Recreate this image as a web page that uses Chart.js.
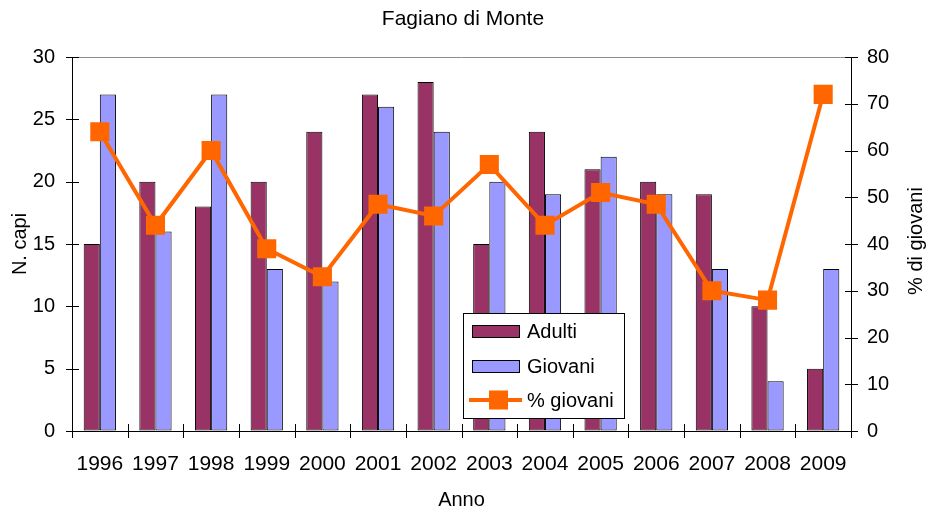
<!DOCTYPE html>
<html>
<head>
<meta charset="utf-8">
<script src="https://cdn.jsdelivr.net/npm/chart.js@4/dist/chart.umd.min.js"></script>
<style>
  html, body { margin: 0; padding: 0; background: #ffffff; }
  #wrap { width: 926px; height: 512px; }
</style>
</head>
<body>
<div id="wrap"><canvas id="c" width="926" height="512"></canvas></div>
<script>
// Fagiano di Monte: adulti e giovani censiti per anno, con la quota di giovani
const anni = ['1996', '1997', '1998', '1999', '2000', '2001', '2002', '2003', '2004', '2005', '2006', '2007', '2008', '2009'];
const adulti = [15, 20, 18, 20, 24, 27, 28, 15, 24, 21, 20, 19, 10, 5];
const giovani = [27, 16, 27, 13, 12, 26, 24, 20, 19, 22, 19, 13, 4, 13];
const percGiovani = [64, 44, 60, 39, 33, 48.5, 46, 57, 44, 51, 48.5, 30, 28, 72];
const ticksCapi = [0, 5, 10, 15, 20, 25, 30];
const ticksPerc = [0, 10, 20, 30, 40, 50, 60, 70, 80];

const FONT = '"Liberation Sans", Arial, Helvetica, sans-serif';
const C_ADULTI = '#993366';
const C_GIOVANI = '#9999FF';
const C_PERC = '#FF6600';

// Tick marks that cross the axis lines, plus the grey top frame line
const axisDecor = {
  id: 'axisDecor',
  beforeDatasetsDraw(chart) {
    const { ctx, chartArea: a } = chart;
    ctx.save();
    ctx.strokeStyle = '#8c8c8c';
    ctx.lineWidth = 1;
    ctx.beginPath();
    ctx.moveTo(a.left, a.top + 0.5);
    ctx.lineTo(a.right, a.top + 0.5);
    ctx.stroke();
    ctx.restore();
  },
  afterDatasetsDraw(chart) {
    const { ctx, chartArea: a, scales } = chart;
    ctx.save();
    ctx.strokeStyle = '#000';
    ctx.lineWidth = 1;
    ctx.beginPath();
    const n = anni.length;
    const step = (a.right - a.left) / n;
    for (let i = 0; i <= n; i++) {
      const x = Math.round(a.left + i * step) + 0.5;
      ctx.moveTo(x, a.bottom - 7);
      ctx.lineTo(x, a.bottom + 7);
    }
    ticksCapi.forEach(v => {
      const y = Math.round(scales.y.getPixelForValue(v)) + 0.5;
      ctx.moveTo(a.left - 6, y);
      ctx.lineTo(a.left + 7, y);
    });
    ticksPerc.forEach(v => {
      const y = Math.round(scales.y1.getPixelForValue(v)) + 0.5;
      ctx.moveTo(a.right - 6, y);
      ctx.lineTo(a.right + 7, y);
    });
    ctx.stroke();
    ctx.restore();
  }
};

// Boxed legend inside the plot area
const boxedLegend = {
  id: 'boxedLegend',
  afterDatasetsDraw(chart) {
    const { ctx } = chart;
    const ds = chart.data.datasets;
    const bx = 463, by = 313, bw = 161, bh = 105;
    ctx.save();
    ctx.fillStyle = '#ffffff';
    ctx.fillRect(bx, by, bw, bh);
    ctx.strokeStyle = '#000';
    ctx.lineWidth = 1;
    ctx.strokeRect(bx + 0.5, by + 0.5, bw, bh);

    ctx.font = '20px ' + FONT;
    ctx.fillStyle = '#000';
    ctx.textBaseline = 'middle';
    ctx.textAlign = 'left';

    const rows = [331, 366, 400];
    // bar entries
    [0, 1].forEach((k, i) => {
      const y = rows[i];
      ctx.fillStyle = ds[k].backgroundColor;
      ctx.fillRect(472, y - 6, 48, 12);
      ctx.strokeStyle = '#000';
      ctx.strokeRect(472.5, y - 5.5, 47, 12);
      ctx.fillStyle = '#000';
      ctx.fillText(ds[k].label, 527, y + 1);
    });
    // line entry
    const y = rows[2];
    ctx.strokeStyle = C_PERC;
    ctx.lineWidth = 4;
    ctx.beginPath();
    ctx.moveTo(469, y);
    ctx.lineTo(522, y);
    ctx.stroke();
    ctx.fillStyle = C_PERC;
    ctx.fillRect(489, y - 9.5, 19, 19);
    ctx.fillStyle = '#000';
    ctx.fillText(ds[2].label, 527, y + 1);
    ctx.restore();
  }
};

// Right-hand axis title, reading bottom to top
const rightTitle = {
  id: 'rightTitle',
  afterDraw(chart) {
    const { ctx, chartArea: a } = chart;
    ctx.save();
    ctx.translate(916, (a.top + a.bottom) / 2 - 3);
    ctx.rotate(-Math.PI / 2);
    ctx.font = '20px ' + FONT;
    ctx.fillStyle = '#000';
    ctx.textAlign = 'center';
    ctx.textBaseline = 'middle';
    ctx.fillText('% di giovani', 0, 0);
    ctx.restore();
  }
};

const tickFont = { family: FONT, size: 21 };

const barStyle = {
  type: 'bar',
  borderColor: '#000',
  borderWidth: 1,
  borderSkipped: false,
  inflateAmount: 0,
  yAxisID: 'y',
  order: 1,
  barPercentage: 1,
  categoryPercentage: 0.58
};

new Chart(document.getElementById('c'), {
  data: {
    labels: anni,
    datasets: [
      Object.assign({}, barStyle, { label: 'Adulti', data: adulti, backgroundColor: C_ADULTI }),
      Object.assign({}, barStyle, { label: 'Giovani', data: giovani, backgroundColor: C_GIOVANI }),
      {
        type: 'line',
        label: '% giovani',
        data: percGiovani,
        borderColor: C_PERC,
        backgroundColor: C_PERC,
        borderWidth: 4,
        tension: 0,
        pointStyle: 'rect',
        pointRadius: 13.5,
        pointBorderWidth: 0,
        pointBackgroundColor: C_PERC,
        yAxisID: 'y1',
        order: 0
      }
    ]
  },
  options: {
    responsive: false,
    animation: false,
    devicePixelRatio: 1,
    layout: { padding: 0 },
    plugins: {
      legend: { display: false },
      tooltip: { enabled: false },
      title: {
        display: true,
        text: 'Fagiano di Monte',
        color: '#000',
        font: { family: FONT, size: 21, weight: 'normal' },
        padding: { top: 7, bottom: 24.8 }
      }
    },
    scales: {
      x: {
        type: 'category',
        offset: true,
        grid: { display: true, drawOnChartArea: false, drawTicks: false },
        border: { display: true, color: '#000', width: 1 },
        ticks: { color: '#000', font: tickFont, padding: 21, maxRotation: 0, autoSkip: false },
        title: {
          display: true,
          text: 'Anno',
          color: '#000',
          font: { family: FONT, size: 20 },
          padding: { top: 0, bottom: 0 }
        },
        afterFit(s) { s.height = 81; }
      },
      y: {
        position: 'left',
        min: 0,
        max: 30,
        grid: { display: true, drawOnChartArea: false, drawTicks: false },
        border: { display: true, color: '#000', width: 1 },
        ticks: { stepSize: 5, color: '#000', font: { family: FONT, size: 20 }, padding: 17 },
        title: {
          display: true,
          text: 'N. capi',
          color: '#000',
          font: { family: FONT, size: 20 },
          padding: { top: 8, bottom: 0 }
        },
        afterFit(s) { s.width = 72; }
      },
      y1: {
        position: 'right',
        min: 0,
        max: 80,
        grid: { display: true, drawOnChartArea: false, drawTicks: false },
        border: { display: true, color: '#000', width: 1 },
        ticks: { stepSize: 10, color: '#000', font: { family: FONT, size: 20 }, padding: 16 },
        afterFit(s) { s.width = 75; }
      }
    }
  },
  plugins: [axisDecor, boxedLegend, rightTitle]
});
</script>
</body>
</html>
